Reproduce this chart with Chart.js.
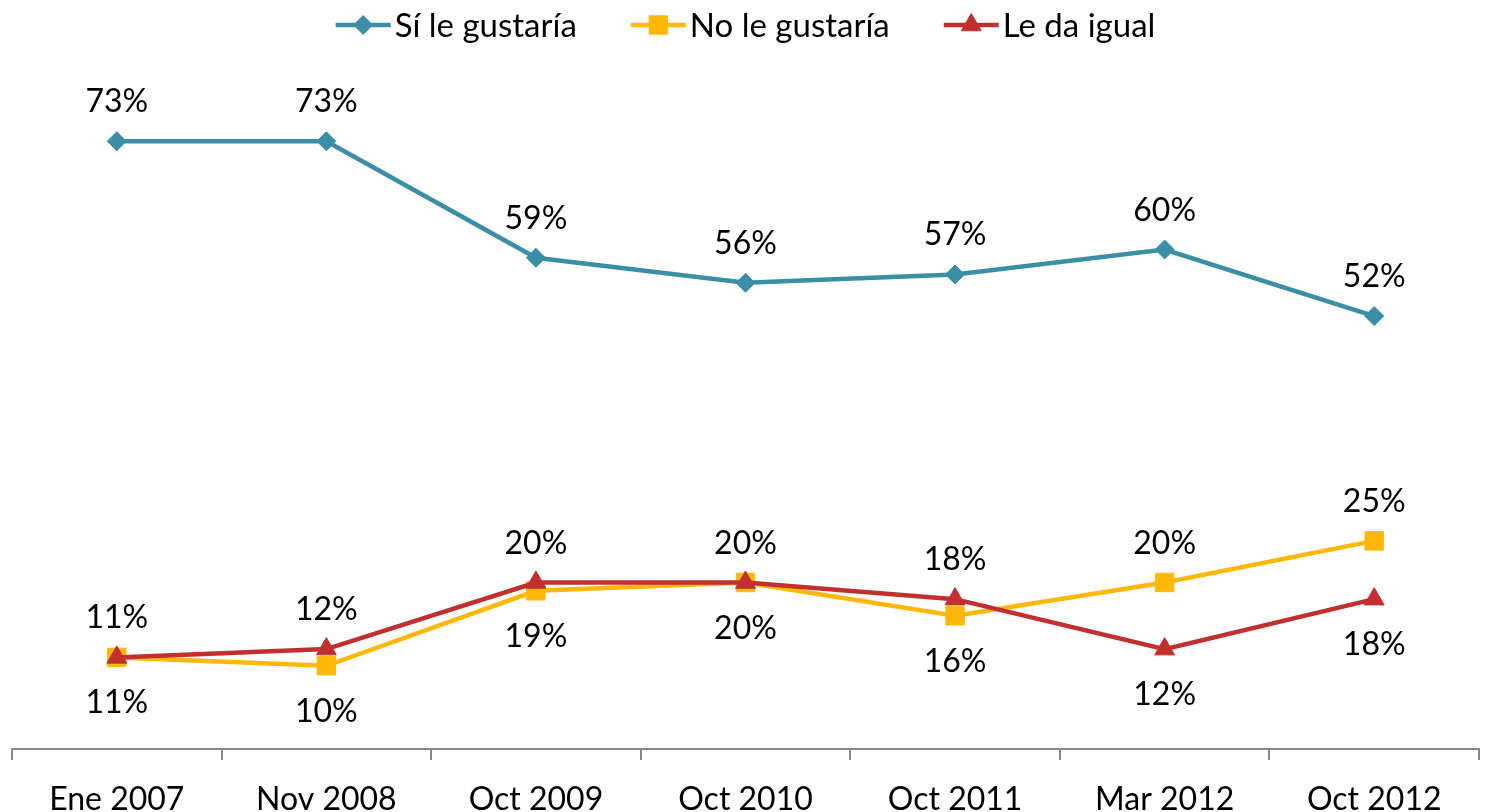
<!DOCTYPE html>
<html lang="es">
<head>
<meta charset="UTF-8">
<title>Sí le gustaría / No le gustaría / Le da igual</title>
<script src="https://cdn.jsdelivr.net/npm/chart.js@4"></script>
<style>
    html, body {
        margin: 0;
        padding: 0;
        background: #fff;
        overflow: hidden;
    }
    .chart-wrap {
        width: 1485px;
        height: 812px;
        position: relative;
    }
    canvas {
        display: block;
    }
</style>
</head>
<body>
<div class="chart-wrap"><canvas id="tendencia"></canvas></div>
<script>
const periodos = ['Ene 2007', 'Nov 2008', 'Oct 2009', 'Oct 2010', 'Oct 2011', 'Mar 2012', 'Oct 2012'];
const siLeGustaria = [73, 73, 59, 56, 57, 60, 52];
const noLeGustaria = [11, 10, 19, 20, 16, 20, 25];
const leDaIgual = [11, 12, 20, 20, 18, 12, 18];

const FONT = 'Lato, "Open Sans", sans-serif';
const TEAL = '#3a8fa6';
const AMBER = '#ffb80a';
const RED = '#c1302f';
const AXIS = '#898989';

// percentage labels: above the point unless another series sits just above it
const etiquetas = {
    id: 'etiquetas',
    afterDatasetsDraw(chart) {
        const ctx = chart.ctx;
        const sets = chart.data.datasets;
        ctx.save();
        ctx.font = '32px ' + FONT;
        ctx.fillStyle = '#000';
        ctx.textAlign = 'center';
        ctx.textBaseline = 'alphabetic';
        sets.forEach((ds, i) => {
            const meta = chart.getDatasetMeta(i);
            meta.data.forEach((pt, k) => {
                const v = ds.data[k];
                const debajo = sets.some((o, j) => {
                    if (j === i) return false;
                    const w = o.data[k];
                    if (w - v > 15) return false;
                    return w > v || (w === v && j > i);
                });
                const y = debajo ? pt.y + 56 : pt.y - 29;
                ctx.fillText(v + '%', pt.x, y);
            });
        });
        ctx.restore();
    }
};

// legend row with line + marker swatches
const leyenda = {
    id: 'leyenda',
    afterDraw(chart) {
        const ctx = chart.ctx;
        const sets = chart.data.datasets;
        const lineLen = 55, gap = 4, sep = 54, cy = 25;
        ctx.save();
        ctx.font = '33px ' + FONT;
        const widths = sets.map(ds => ctx.measureText(ds.label).width);
        const total = widths.reduce((a, w) => a + lineLen + gap + w, 0) + sep * (sets.length - 1);
        let x = (chart.chartArea.left + chart.chartArea.right) / 2 - total / 2;
        sets.forEach((ds, i) => {
            ctx.strokeStyle = ds.borderColor;
            ctx.lineWidth = 4.5;
            ctx.beginPath();
            ctx.moveTo(x, cy);
            ctx.lineTo(x + lineLen, cy);
            ctx.stroke();
            ctx.fillStyle = ds.pointBackgroundColor;
            ctx.strokeStyle = ds.pointBorderColor;
            ctx.lineWidth = 1;
            Chart.helpers.drawPoint(ctx, {
                pointStyle: ds.pointStyle,
                radius: ds.pointRadius,
                rotation: 0,
                borderWidth: 1
            }, x + lineLen / 2, cy);
            ctx.fillStyle = '#000';
            ctx.textAlign = 'left';
            ctx.textBaseline = 'middle';
            ctx.fillText(ds.label, x + lineLen + gap, cy + 1);
            x += lineLen + gap + widths[i] + sep;
        });
        ctx.restore();
    }
};

function serie(label, data, color, style, radius, order) {
    return {
        label: label,
        data: data,
        borderColor: color,
        backgroundColor: color,
        pointBackgroundColor: color,
        pointBorderColor: color,
        pointBorderWidth: 1,
        borderWidth: 4.5,
        pointStyle: style,
        pointRadius: radius,
        pointHoverRadius: radius,
        tension: 0,
        clip: false,
        order: order
    };
}

new Chart(document.getElementById('tendencia'), {
    type: 'line',
    data: {
        labels: periodos,
        datasets: [
            serie('Sí le gustaría', siLeGustaria, TEAL, 'rectRot', 9.5, 0),
            serie('No le gustaría', noLeGustaria, AMBER, 'rect', 13, 2),
            serie('Le da igual', leDaIgual, RED, 'triangle', 11.5, 1)
        ]
    },
    options: {
        responsive: true,
        maintainAspectRatio: false,
        animation: false,
        layout: {
            autoPadding: false,
            padding: { top: 83, left: 12, right: 6, bottom: 0 }
        },
        plugins: {
            legend: { display: false },
            tooltip: { enabled: false }
        },
        scales: {
            x: {
                offset: true,
                afterFit(scale) {
                    scale.height = 63;
                    scale.paddingLeft = 0;
                    scale.paddingRight = 0;
                },
                grid: {
                    offset: true,
                    drawOnChartArea: false,
                    drawTicks: true,
                    tickLength: 11,
                    color: AXIS,
                    lineWidth: 2
                },
                border: { display: true, color: AXIS, width: 2 },
                ticks: {
                    color: '#000',
                    padding: 20,
                    font: { family: FONT, size: 32 }
                }
            },
            y: {
                display: false,
                min: 0,
                max: 80
            }
        }
    },
    plugins: [etiquetas, leyenda]
});
</script>
</body>
</html>
